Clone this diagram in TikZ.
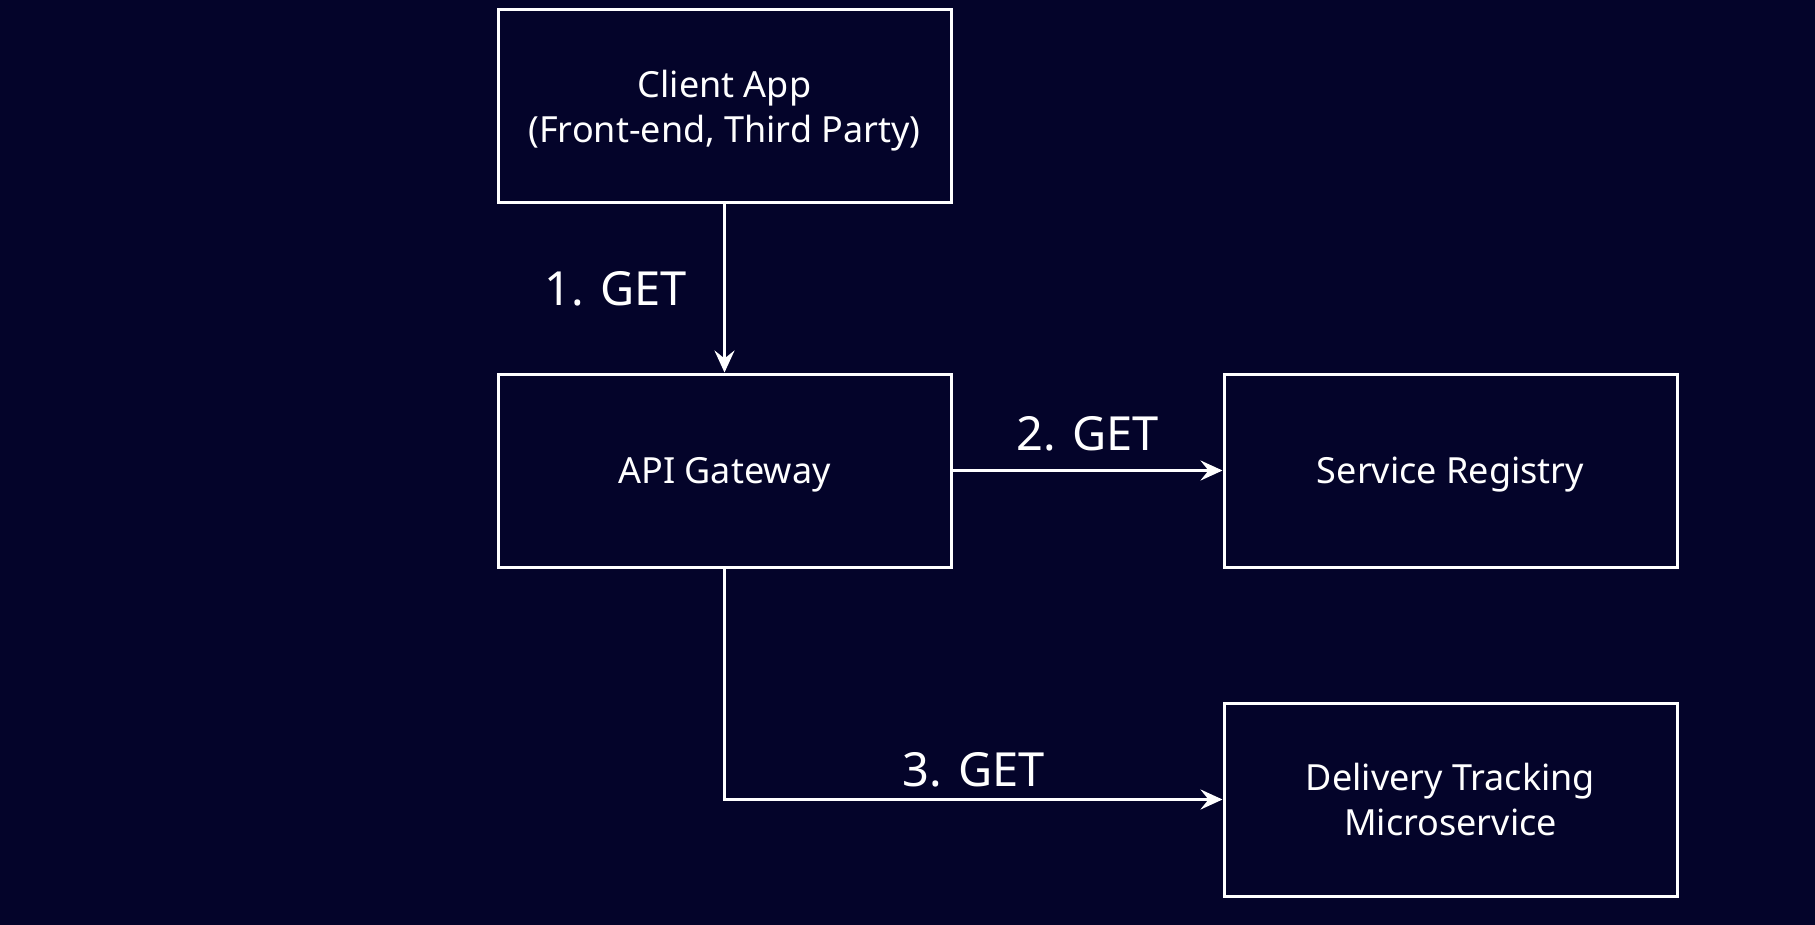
\documentclass[tikz,border=0pt]{standalone}
\usepackage{fontspec}
\setmainfont{Noto Sans}
\usetikzlibrary{arrows.meta,positioning,calc}
\usepackage{xcolor}
\definecolor{Night}{HTML}{04042A}
\definecolor{Chalk}{HTML}{FFFFFF}

\begin{document}
\begin{tikzpicture}[x=0.5pt,y=-0.5pt,
  svcbox/.style={draw=Chalk,line width=1.5pt,fill=Night,text=Chalk,align=center,
    minimum width=226.5pt,minimum height=96.5pt,inner sep=0pt,text depth=0pt,
    font=\fontsize{18}{22.5}\selectfont},
  callarrow/.style={-{Stealth[length=11pt,width=10pt,inset=4pt]},Chalk,line width=1.5pt},
  calllabel/.style={text=Chalk,font=\fontsize{23.5}{28}\selectfont,inner sep=2pt}]
\fill[Night] (0,0) rectangle (1815,925);
\useasboundingbox (0,0) rectangle (1815,925);
\node[svcbox] (client) at (724.5,106.5) {Client App\\(Front-end, Third Party)};
\node[svcbox] (gateway) at (724.5,470.5) {API Gateway};
\node[svcbox] (registry) at (1450.5,470.5) {Service Registry};
\node[svcbox] (delivery) at (1450.5,799.5) {Delivery Tracking\\Microservice};
\draw[callarrow] (client) -- node[calllabel,left=16pt] {1. GET} (gateway);
\draw[callarrow] (gateway) -- node[calllabel,above=7pt] {2. GET} (registry);
\draw[callarrow] (gateway.south) |- node[calllabel,above=3.5pt,pos=0.75] {3. GET} (delivery.west);
\end{tikzpicture}
\end{document}
